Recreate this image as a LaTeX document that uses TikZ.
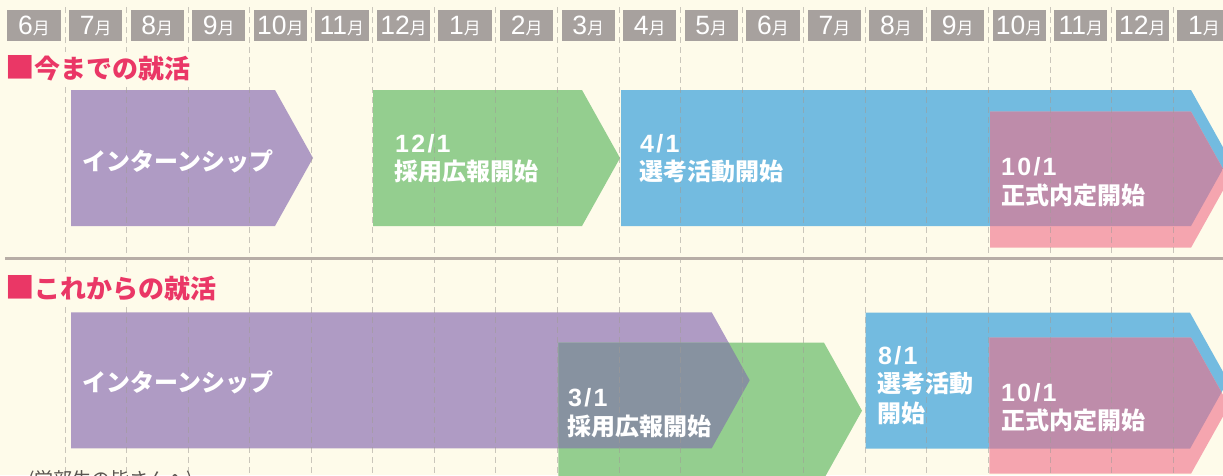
\documentclass[tikz,border=0pt]{standalone}
\usepackage{fontspec}
\setmainfont{Liberation Sans}
\newfontfamily\jp{Noto Sans CJK JP}
\newfontfamily\dt{Liberation Sans}[LetterSpace=9]
\definecolor{bg}{RGB}{254,251,234}
\definecolor{boxgray}{RGB}{167,161,158}
\definecolor{titlepink}{RGB}{234,55,102}
\definecolor{sepgray}{RGB}{183,173,166}
\definecolor{cpurple}{RGB}{175,155,196}
\definecolor{cgreen}{RGB}{148,206,143}
\definecolor{cblue}{RGB}{115,187,224}
\definecolor{cpink}{RGB}{245,165,175}
\definecolor{cmauve}{RGB}{190,140,170}
\definecolor{cslate}{RGB}{135,146,160}
\definecolor{dashgray}{RGB}{160,155,150}
\definecolor{notegray}{RGB}{90,85,80}
\newcommand\arrowpath[3]{(#1,#2) -- (#3,#2) -- ({#3+38},{#2+68}) -- (#3,{#2+136}) -- (#1,{#2+136}) -- cycle}
\newcommand\bigsq{{\fontsize{29.5}{29.5}\selectfont ■}}
\begin{document}
\begin{tikzpicture}[x=1pt,y=-1pt,
  monthbox/.style={fill=boxgray, minimum width=53.3pt, minimum height=30.7pt, inner sep=0pt,
    text=white, text height=18.5pt, text depth=0pt},
  titlelbl/.style={anchor=base west, fill=bg, inner xsep=0pt, inner ysep=3pt, text=titlepink,
    font=\jp\bfseries\fontsize{26}{26}\selectfont},
  jplbl/.style={anchor=base west, inner sep=0pt, text=white, font=\jp\bfseries\fontsize{24}{24}\selectfont},
  datelbl/.style={anchor=base west, inner sep=0pt, text=white, font=\dt\bfseries\fontsize{25}{25}\selectfont},
  gridline/.style={dashgray, opacity=0.55, line width=1pt, dash pattern=on 6pt off 4pt},
  seprule/.style={sepgray, line width=2.5pt},
  notelbl/.style={anchor=base west, inner sep=0pt, text=notegray, font=\jp\fontsize{19}{19}\selectfont}
]
\useasboundingbox (0,0) rectangle (1223,475);
\clip (0,0) rectangle (1223,475);
\fill[bg] (0,0) rectangle (1223,475);

% ---- top row shapes ----
\fill[cpurple] \arrowpath{71}{90}{275};
\fill[cgreen] \arrowpath{373}{90}{582};
\fill[cblue] \arrowpath{621}{90}{1191};
\fill[cpink] \arrowpath{990}{111.7}{1191};
\begin{scope}
  \clip \arrowpath{621}{90}{1191};
  \fill[cmauve] \arrowpath{990}{111.7}{1191};
\end{scope}

% ---- bottom row shapes ----
\fill[cpurple] \arrowpath{71}{312.3}{711.7};
\fill[cgreen] \arrowpath{558.3}{342.7}{824};
\begin{scope}
  \clip \arrowpath{71}{312.3}{711.7};
  \fill[cslate] \arrowpath{558.3}{342.7}{824};
\end{scope}
\fill[cblue] \arrowpath{865.7}{312.7}{1190};
\fill[cpink] \arrowpath{989.3}{337.7}{1191};
\begin{scope}
  \clip \arrowpath{865.7}{312.7}{1190};
  \fill[cmauve] \arrowpath{989.3}{337.7}{1191};
\end{scope}

% ---- dashed month grid ----
\foreach \k in {0,...,18} {
  \coordinate (gt\k) at ({65+61.57*\k},7);
  \coordinate (gb\k) at ({65+61.57*\k},475);
  \draw[gridline] (gt\k) -- (gb\k);
}

% ---- separator ----
\coordinate (sepL) at (5,258.3);
\coordinate (sepR) at (1223,258.3);
\draw[seprule] (sepL) -- (sepR);

% ---- month header ----
\foreach \m [count=\i from 0] in {6,7,8,9,10,11,12,1,2,3,4,5,6,7,8,9,10,11,12,1} {
  \node[monthbox] (m\i) at ({34.08+61.57*\i},25.35)
    {\fontsize{26.5}{26.5}\selectfont\m{\jp\fontsize{17}{17}\selectfont 月}};
}

% ---- titles ----
\node[titlelbl] (title1) at (5,78) {\bigsq 今までの就活};
\node[titlelbl] (title2) at (5,298) {\bigsq これからの就活};

% ---- top row labels ----
\node[jplbl] (intern1) at (82,170) {インターンシップ};
\node[datelbl] (d121) at (395,152) {12/1};
\node[jplbl] (pr1) at (394,180) {採用広報開始};
\node[datelbl] (d41) at (640,152) {4/1};
\node[jplbl] (sel1) at (639,180) {選考活動開始};
\node[datelbl] (d101a) at (1001,175) {10/1};
\node[jplbl] (off1) at (1001,204) {正式内定開始};

% ---- bottom row labels ----
\node[jplbl] (intern2) at (82,391) {インターンシップ};
\node[datelbl] (d31) at (568,406.7) {3/1};
\node[jplbl] (pr2) at (567,435) {採用広報開始};
\node[datelbl] (d81) at (878,364) {8/1};
\node[jplbl] (sel2a) at (877,392) {選考活動};
\node[jplbl] (sel2b) at (877,422) {開始};
\node[datelbl] (d101b) at (1001,401.7) {10/1};
\node[jplbl] (off2) at (1001,429) {正式内定開始};

% ---- note (cut by bottom edge, as in the reference) ----
\node[notelbl] (note) at (28,486) {(学部生の皆さんへ)};
\end{tikzpicture}
\end{document}
